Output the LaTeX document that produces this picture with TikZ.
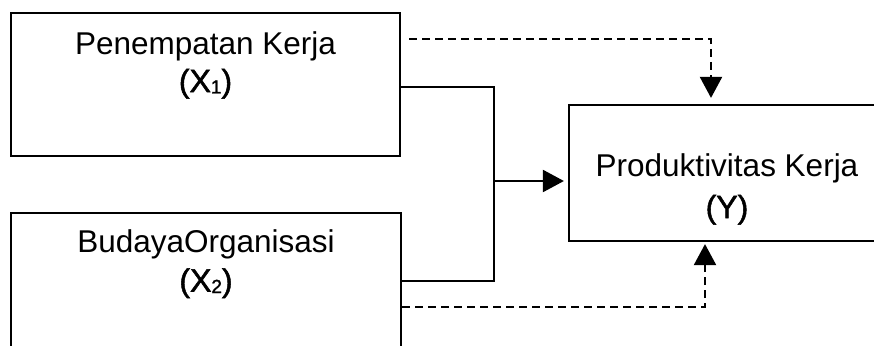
\documentclass[tikz,border=0pt]{standalone}
\usepackage{fontspec}
\setmainfont{Liberation Sans}
\newfontfamily\medfont[FakeBold=1.6]{Liberation Sans}
\usetikzlibrary{arrows.meta}
\newcommand\subdig[1]{\raisebox{-1.5pt}{\fontsize{19}{19}\selectfont #1}}
\begin{document}
\begin{tikzpicture}[x=1pt,y=-1pt,
  box/.style={draw, line width=2.2pt, rectangle, inner sep=0pt},
  txt/.style={anchor=base, inner sep=0pt, font=\fontsize{31.5}{36}\selectfont},
  vtxt/.style={anchor=base, inner sep=0pt, font=\fontsize{32}{36}\selectfont\medfont},
  conn/.style={line width=2.2pt},
  dsh/.style={line width=2.2pt, dash pattern=on 8pt off 5pt},
  tip/.style={-{Triangle[length=21pt,width=22pt]}}]
\useasboundingbox (0,0) rectangle (874,345);
\clip (0,0) rectangle (874,345);
% boxes
\node[box, minimum width=389pt, minimum height=143pt] (b1) at (205.5,84.5) {};
\node[box, minimum width=390pt, minimum height=143pt] (b2) at (206,284.5) {};
\node[box, minimum width=316pt, minimum height=136pt] (by) at (727,173) {};
% texts
\node[txt] (t1a) at (205.5,54) {Penempatan Kerja};
\node[vtxt] (t1b) at (205.5,92) {(X\subdig{1})};
\node[txt] (t2a) at (206,252.5) {BudayaOrganisasi};
\node[vtxt] (t2b) at (206,291.5) {(X\subdig{2})};
\node[txt] (tya) at (727,176.5) {Produktivitas Kerja};
\node[vtxt] (tyb) at (727,218) {(Y)};
% solid connectors
\coordinate (j1) at (494,87);
\coordinate (j2) at (494,281);
\coordinate (jm) at (494,181);
\draw[conn] (b1.east |- j1) -- (j1) -- (j2) -- (b2.east |- j2);
\draw[conn, tip, shorten >=4pt] (jm) -- (by.west |- jm);
% dashed connectors
\coordinate (d1s) at (409,39);
\coordinate (d1c) at (711,39);
\draw[dsh, tip, shorten >=6pt] (d1s) -- (d1c) -- (by.north -| d1c);
\coordinate (d2s) at (402,307);
\coordinate (d2c) at (705,307);
\draw[dsh, tip, shorten >=2pt] (d2s) -- (d2c) -- (by.south -| d2c);
\end{tikzpicture}
\end{document}
